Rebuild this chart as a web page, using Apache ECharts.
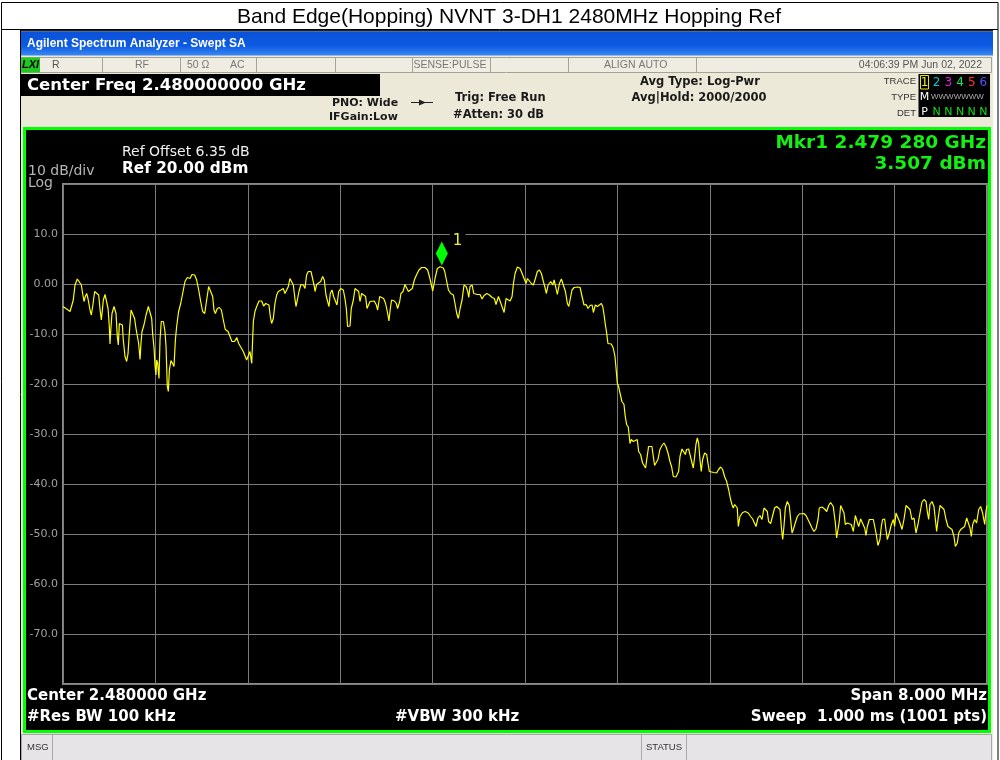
<!DOCTYPE html>
<html><head><meta charset="utf-8">
<script src="https://cdn.jsdelivr.net/npm/echarts@6/dist/echarts.min.js"></script>
<style>html,body{margin:0;padding:0;background:#fff}#c{width:1000px;height:760px}</style>
</head><body><div id="c"></div>
<script>
// ---- data (frequency in MHz, level in dBm) ----
const freqMHz = [
2476.000,2476.017,2476.038,2476.061,2476.078,2476.089,2476.104,2476.124,2476.141,2476.159,2476.170,2476.182,2476.193,2476.205,2476.216,2476.234,2476.245,2476.257,2476.274,2476.291,
2476.309,2476.320,2476.332,2476.341,2476.349,2476.364,2476.378,2476.390,2476.401,2476.407,2476.413,2476.424,2476.442,2476.459,2476.470,2476.479,2476.488,2476.499,2476.514,2476.522,
2476.537,2476.551,2476.563,2476.574,2476.589,2476.603,2476.620,2476.632,2476.646,2476.655,2476.667,2476.675,2476.684,2476.701,2476.719,2476.739,2476.753,2476.768,2476.776,2476.788,
2476.797,2476.805,2476.811,2476.820,2476.831,2476.840,2476.851,2476.869,2476.883,2476.892,2476.903,2476.912,2476.921,2476.935,2476.949,2476.961,2476.973,2476.984,2477.001,2477.019,
2477.036,2477.056,2477.076,2477.100,2477.117,2477.140,2477.157,2477.175,2477.192,2477.209,2477.227,2477.244,2477.261,2477.278,2477.296,2477.307,2477.319,2477.336,2477.354,2477.371,
2477.388,2477.405,2477.429,2477.446,2477.463,2477.486,2477.504,2477.521,2477.532,2477.561,2477.590,2477.619,2477.634,
2477.648,2477.662,2477.677,2477.697,2477.720,2477.737,2477.755,2477.772,2477.783,2477.795,2477.806,2477.821,2477.835,2477.850,2477.864,2477.887,2477.907,2477.922,2477.939,2477.951,
2477.965,2477.980,2477.994,2478.008,2478.017,2478.029,2478.043,2478.060,2478.081,2478.095,2478.109,2478.124,2478.147,2478.161,2478.176,2478.182,2478.196,2478.211,2478.231,2478.248,
2478.262,2478.277,2478.291,2478.303,2478.314,2478.329,2478.343,2478.355,2478.372,2478.387,2478.404,2478.427,2478.441,2478.453,2478.464,2478.485,2478.496,2478.514,2478.528,2478.545,
2478.560,2478.571,2478.586,2478.603,2478.620,2478.632,2478.643,2478.658,2478.672,2478.695,2478.713,2478.724,2478.742,2478.759,2478.776,2478.793,2478.811,2478.822,2478.834,2478.845,
2478.869,2478.886,2478.897,2478.915,2478.926,2478.944,2478.961,2478.975,2478.990,2479.004,2479.024,2479.042,2479.062,2479.082,2479.105,2479.134,2479.157,2479.177,
2479.201,2479.213,2479.221,2479.241,2479.265,2479.280,2479.293,2479.305,2479.317,2479.337,2479.357,2479.380,2479.394,2479.409,2479.423,2479.438,2479.455,2479.472,2479.490,2479.504,
2479.513,2479.524,2479.542,2479.556,2479.570,2479.588,2479.611,2479.628,2479.646,2479.669,2479.692,2479.715,2479.735,2479.749,2479.770,2479.787,2479.801,2479.819,2479.836,2479.853,
2479.871,2479.888,2479.900,2479.914,2479.934,2479.957,2479.975,2479.992,2480.009,2480.021,2480.038,2480.055,2480.073,2480.090,2480.107,2480.125,2480.142,2480.159,2480.171,2480.185,
2480.200,2480.223,2480.240,2480.252,2480.269,2480.280,2480.298,2480.315,2480.332,2480.350,2480.367,2480.379,2480.390,2480.407,2480.425,2480.442,2480.459,2480.477,2480.494,2480.511,
2480.529,2480.546,2480.563,2480.581,2480.592,2480.609,2480.627,2480.644,2480.661,2480.673,2480.684,2480.696,
2480.707,2480.718,2480.747,2480.764,2480.779,2480.788,2480.799,2480.811,2480.828,2480.839,2480.857,2480.868,2480.880,2480.894,2480.903,2480.909,2480.920,2480.938,2480.955,2480.972,
2480.984,2481.001,2481.018,2481.033,2481.044,2481.056,2481.070,2481.082,2481.099,2481.111,2481.122,2481.134,2481.151,2481.168,2481.186,2481.203,2481.220,2481.238,2481.255,2481.269,
2481.284,2481.307,2481.321,2481.330,2481.342,2481.359,2481.376,2481.388,2481.399,2481.417,2481.434,2481.446,2481.457,2481.469,2481.480,2481.492,2481.503,2481.515,2481.526,2481.538,
2481.555,2481.573,2481.584,2481.596,2481.613,2481.636,2481.659,2481.676,2481.694,2481.711,2481.728,2481.746,2481.763,2481.780,2481.792,2481.803,2481.815,2481.826,2481.838,
2481.847,2481.861,2481.884,2481.907,2481.933,2481.954,2481.971,2481.988,2482.000,2482.017,2482.034,2482.052,2482.069,2482.086,2482.098,2482.109,2482.127,2482.144,2482.161,2482.179,
2482.196,2482.208,2482.219,2482.231,2482.242,2482.254,2482.271,2482.288,2482.300,2482.312,2482.323,2482.340,2482.358,2482.375,2482.392,2482.415,2482.433,2482.450,2482.467,2482.485,
2482.502,2482.519,2482.537,2482.548,2482.571,2482.594,2482.612,2482.629,2482.646,2482.658,2482.669,2482.687,2482.698,2482.710,2482.721,2482.733,2482.750,2482.762,2482.773,2482.791,
2482.808,2482.825,2482.843,2482.860,2482.877,2482.889,2482.906,2482.923,2482.941,2482.952,2482.964,2482.981,2482.998,2483.016,2483.027,2483.039,2483.056,2483.073,2483.085,2483.096,
2483.114,2483.125,2483.137,2483.154,2483.172,2483.189,2483.200,2483.212,2483.229,2483.247,2483.264,2483.281,2483.299,2483.316,2483.333,2483.350,2483.368,2483.385,2483.402,2483.420,
2483.437,2483.454,2483.472,2483.483,2483.495,2483.506,2483.524,2483.541,2483.553,2483.564,2483.576,2483.593,2483.610,2483.628,2483.645,2483.662,2483.679,2483.697,2483.714,2483.726,
2483.743,2483.755,2483.772,2483.789,2483.806,2483.824,2483.841,2483.853,2483.864,2483.876,2483.893,2483.910,2483.928,2483.945,2483.962,2483.980,2483.991,2484.000
];
const levelDbm = [
-4.5,-4.2,-5.1,-5.5,-5.2,-3.2,-0.2,1.0,0.9,-0.2,-1.9,-3.5,-2.5,-1.9,-2.9,-5.2,-6.2,-4.5,-1.5,-1.2,
-2.2,-4.9,-7.2,-5.2,-3.2,-2.1,-2.4,-4.9,-8.5,-12.0,-9.5,-5.9,-4.5,-5.9,-10.5,-12.2,-7.9,-7.5,-8.2,-11.2,
-14.5,-15.5,-13.9,-9.9,-5.2,-5.2,-6.9,-8.9,-8.9,-11.9,-15.1,-11.9,-9.5,-8.2,-6.2,-4.5,-4.9,-6.9,-9.9,-12.7,
-16.5,-18.2,-15.2,-15.9,-18.9,-11.2,-7.5,-7.5,-9.5,-12.5,-20.5,-21.5,-17.2,-15.3,-15.9,-16.5,-11.2,-8.5,-5.5,-3.9,
-1.9,0.5,1.3,1.1,1.9,1.8,0.8,-1.2,-3.5,-5.5,-5.9,-3.2,-0.5,-0.2,-2.5,-5.2,-5.9,-4.9,-4.7,-5.2,
-7.2,-9.1,-9.5,-10.5,-11.5,-11.5,-10.7,-11.9,-11.5,-13.5,-15.2,-13.5,-15.9,
-7.5,-5.5,-4.5,-3.4,-3.4,-4.4,-3.9,-3.7,-4.2,-6.5,-7.9,-6.9,-3.9,-2.2,-1.5,-1.2,-0.9,-1.9,-1.9,-0.5,
1.1,1.0,-0.2,-2.9,-4.5,-3.2,-1.5,-0.1,-0.2,-0.9,1.8,2.5,2.5,1.1,-0.5,-1.5,-0.1,0.3,0.5,1.5,
0.8,-2.2,-3.5,-4.5,-1.9,-1.2,-2.5,-3.2,-4.2,-1.5,-0.9,-1.2,-2.9,-4.9,-8.5,-8.4,-4.9,-3.2,-0.9,-0.5,
-1.5,-3.5,-1.9,-1.5,-2.5,-4.9,-5.2,-3.5,-3.2,-3.4,-4.2,-5.2,-2.5,-2.3,-2.9,-3.9,-5.9,-7.4,-4.9,-3.2,
-3.4,-3.9,-4.9,-3.5,-1.9,-1.5,-0.1,-0.2,-1.5,-1.4,-0.9,0.8,1.9,2.8,3.3,3.3,2.8,1.1,
-1.4,0.0,1.1,3.1,3.45,3.507,3.2,2.5,1.1,-1.2,-1.9,-2.2,-3.9,-5.9,-6.9,-4.9,-3.2,-0.2,-0.5,-1.5,
-2.7,-0.5,-0.2,-1.9,-2.3,-2.1,-2.1,-3.0,-2.3,-1.9,-2.2,-2.7,-2.9,-4.1,-2.5,-2.9,-4.5,-5.7,-2.9,-2.7,
-3.4,-2.5,0.1,2.1,3.4,3.1,2.1,1.8,0.1,1.1,1.3,0.1,-0.2,1.1,2.5,2.8,2.1,0.5,-0.5,-1.9,
-0.2,0.5,-0.2,0.8,-0.9,-2.1,0.1,1.0,0.8,-1.5,-3.9,-4.5,-3.2,-1.2,-0.7,-1.0,-0.6,-0.7,-2.5,-4.2,
-4.1,-4.9,-4.3,-4.2,-5.7,-4.2,-4.5,-4.1,-3.9,-4.5,-6.1,-8.2,
-9.8,-11.9,-12.0,-12.8,-14.5,-16.8,-19.8,-20.6,-20.8,-23.5,-24.1,-26.5,-28.1,-28.6,-30.5,-31.9,-31.1,-31.5,-31.1,-31.1,
-33.5,-34.1,-35.8,-35.9,-36.8,-34.8,-32.5,-32.3,-32.5,-34.5,-36.3,-36.5,-35.1,-33.1,-32.3,-31.8,-32.5,-33.8,-35.5,-36.5,
-38.5,-38.6,-38.8,-37.5,-34.5,-33.0,-33.1,-34.1,-33.1,-33.0,-33.3,-35.8,-36.8,-34.5,-32.1,-30.8,-31.8,-35.1,-37.5,-35.1,
-33.8,-34.1,-35.8,-37.5,-37.7,-37.7,-37.8,-37.1,-36.6,-37.1,-38.5,-39.5,-41.1,-43.1,-44.1,-44.8,-44.1,-43.8,-44.8,
-48.5,-46.5,-45.7,-45.5,-45.8,-46.5,-47.0,-47.0,-48.5,-46.8,-46.3,-47.1,-44.8,-44.7,-45.5,-47.5,-47.9,-47.6,-44.8,-44.5,
-44.3,-45.1,-48.5,-51.1,-48.5,-44.8,-43.5,-44.3,-47.1,-49.8,-49.1,-47.8,-46.5,-46.0,-45.8,-45.9,-46.3,-47.1,-47.9,-48.8,
-49.5,-49.0,-47.1,-44.8,-44.6,-45.0,-45.5,-44.3,-43.7,-43.5,-44.5,-47.8,-50.8,-51.1,-47.5,-44.3,-44.3,-45.8,-48.1,-47.8,
-47.5,-48.1,-49.5,-46.3,-46.5,-48.5,-47.0,-47.1,-48.8,-50.3,-48.5,-47.1,-47.0,-47.1,-47.0,-49.8,-52.3,-51.1,-48.5,-47.1,
-47.0,-49.1,-51.1,-49.8,-48.1,-47.1,-48.5,-45.8,-46.1,-47.8,-49.1,-47.1,-44.3,-44.1,-45.1,-47.1,-46.8,-49.8,-48.1,-45.8,
-43.6,-43.1,-43.5,-45.5,-47.1,-44.1,-43.5,-44.5,-47.1,-49.5,-47.1,-44.3,-43.9,-45.1,-47.1,-48.5,-48.5,-49.1,-50.5,-52.5,
-51.8,-49.8,-49.1,-49.0,-48.5,-46.8,-46.5,-48.8,-50.5,-48.1,-47.1,-47.8,-45.1,-44.5,-45.8,-48.1,-45.5,-44.3
];
const yTicks = [20, 10, 0, -10, -20, -30, -40, -50, -60, -70, -80];
const yTickLabels = ['', '10.0', '0.00', '-10.0', '-20.0', '-30.0', '-40.0', '-50.0', '-60.0', '-70.0', ''];
const xRange = [2476, 2484];
const marker = { freq: 2479.280, level: 3.507, label: '1' };

// ---- chrome helpers ----
const DJ = '"DejaVu Sans"';
const LS = '"Liberation Sans"';
function rect(x, y, w, h, fill, stroke, lw, z) {
  return { type: 'rect', z: z == null ? -5 : z, silent: true, shape: { x, y, width: w, height: h },
    style: { fill: fill || 'none', stroke: stroke || 'none', lineWidth: lw || 0 } };
}
function line(x1, y1, x2, y2, stroke, lw, z) {
  return { type: 'line', z: z == null ? -4 : z, silent: true, shape: { x1, y1, x2, y2 },
    style: { stroke, lineWidth: lw || 1 } };
}
function txt(x, y, text, font, fill, align) {
  return { type: 'text', z: 50, silent: true, x, y,
    style: { text, font, fill, textAlign: align || 'left', textVerticalAlign: 'middle', verticalAlign: 'middle' } };
}

const g = [];
// page table
g.push(rect(1.5, 2.5, 996.5, 770, '#fff', '#000', 1, -9));
g.push(txt(509, 17, 'Band Edge(Hopping) NVNT 3-DH1 2480MHz Hopping Ref', '21px ' + LS, '#000', 'center'));
g.push(line(1, 29.5, 998, 29.5, '#000', 1, -8));
g.push(line(20.5, 29, 20.5, 760, '#000', 1, -8));
// screenshot background
g.push(rect(21, 30, 972, 730, '#ece9d8', null, 0, -8));
g.push(rect(21, 30, 972, 1.5, '#222', null, 0, -7));
// title bar
g.push({ type: 'rect', z: -7, silent: true, shape: { x: 21, y: 31.5, width: 972, height: 24 },
  style: { fill: new echarts.graphic.LinearGradient(0, 0, 0, 1, [
    { offset: 0, color: '#0a52d8' }, { offset: 0.6, color: '#0c5ae2' }, { offset: 1, color: '#3a88f2' }]) } });
g.push(txt(27, 44, 'Agilent Spectrum Analyzer - Swept SA', 'bold 12px ' + LS, '#fff'));
// status row
g.push(rect(21.5, 57.5, 970, 15, '#efece2', '#a5a398', 1, -7));
[102.5, 180.5, 256.5, 335.5, 412.5, 490.5, 568.5, 696.5].forEach(x => g.push(line(x, 57.5, x, 72.5, '#a5a398', 1, -6)));
g.push(rect(21, 57.5, 19, 15, '#22c822', null, 0, -6));
g.push(txt(22, 65, 'LXI', 'italic bold 11px ' + LS, '#000'));
g.push(txt(52, 65, 'R', '10.5px ' + LS, '#555'));
g.push(txt(135, 65, 'RF', '10.5px ' + LS, '#777'));
g.push(txt(187, 65, '50 Ω', '10.5px ' + LS, '#777'));
g.push(txt(230, 65, 'AC', '10.5px ' + LS, '#777'));
g.push(txt(413.5, 65, 'SENSE:PULSE', '10.5px ' + LS, '#777'));
g.push(txt(604, 65, 'ALIGN AUTO', '10.5px ' + LS, '#777'));
g.push(txt(982, 65, '04:06:39 PM Jun 02, 2022', '10.5px ' + LS, '#555', 'right'));
// center freq box + settings
g.push(rect(21, 74, 359, 22, '#000', null, 0, -6));
g.push(txt(27, 86, 'Center Freq 2.480000000 GHz', 'bold 16.5px ' + DJ, '#fff'));
g.push(txt(332, 103, 'PNO: Wide', 'bold 11px ' + DJ, '#1a1a1a'));
g.push(txt(329, 117, 'IFGain:Low', 'bold 11px ' + DJ, '#1a1a1a'));
g.push(line(411, 102.5, 433, 102.5, '#222', 1, -5));
g.push({ type: 'polygon', z: -5, silent: true, shape: { points: [[419, 99.5], [426, 102.5], [419, 105.5]] }, style: { fill: '#222' } });
g.push(txt(455, 98, 'Trig: Free Run', 'bold 11.5px ' + DJ, '#1a1a1a'));
g.push(txt(453, 115, '#Atten: 30 dB', 'bold 11.5px ' + DJ, '#1a1a1a'));
g.push(txt(700, 82, 'Avg Type: Log-Pwr', 'bold 11.5px ' + DJ, '#1a1a1a', 'center'));
g.push(txt(699, 98, 'Avg|Hold: 2000/2000', 'bold 11.5px ' + DJ, '#1a1a1a', 'center'));
// trace box
g.push(txt(916, 81, 'TRACE', '9.5px ' + LS, '#333', 'right'));
g.push(txt(916, 97, 'TYPE', '9.5px ' + LS, '#333', 'right'));
g.push(txt(916, 113, 'DET', '9.5px ' + LS, '#333', 'right'));
g.push(rect(918.5, 74, 71.5, 43, '#000', null, 0, -6));
g.push(rect(920.5, 75.5, 8, 13.5, 'none', '#e8e800', 1, -5));
const trCols = ['#f0f000', '#00c8d0', '#e020e0', '#20e060', '#ff3030', '#5050ff'];
[924.5, 936.5, 948.3, 960, 971.7, 983.3].forEach((x, i) => g.push(txt(x, 82.5, String(i + 1), '12px ' + DJ, trCols[i], 'center')));
g.push(txt(924.5, 97, 'M', '11px ' + DJ, '#fff', 'center'));
g.push(txt(931, 97, 'WWWWWWW', '8px ' + LS, '#b0b0b0'));
g.push(txt(924.5, 112.5, 'P', '11px ' + DJ, '#fff', 'center'));
[936.5, 948.3, 960, 971.7, 983.3].forEach(x => g.push(txt(x, 112.5, 'N', '11px ' + DJ, '#10e010', 'center')));
// display area
g.push(rect(24.5, 128.5, 965, 603, '#000', '#00ff00', 3, -6));
g.push(txt(122, 152.5, 'Ref Offset 6.35 dB', '14px ' + DJ, '#f2f2f2'));
g.push(txt(122, 169.5, 'Ref 20.00 dBm', 'bold 15.3px ' + DJ, '#fff'));
g.push(txt(28, 171.5, '10 dB/div', '14px ' + DJ, '#b4b4b4'));
g.push(txt(28, 183.5, 'Log', '14px ' + DJ, '#b4b4b4'));
g.push(txt(986, 143, 'Mkr1 2.479 280 GHz', 'bold 18.5px ' + DJ, '#14f014', 'right'));
g.push(txt(986, 164, '3.507 dBm', 'bold 18.5px ' + DJ, '#14f014', 'right'));
g.push(txt(27, 696.5, 'Center 2.480000 GHz', 'bold 15px ' + DJ, '#fff'));
g.push(txt(27, 717.5, '#Res BW 100 kHz', 'bold 15px ' + DJ, '#fff'));
g.push(txt(395, 717.5, '#VBW 300 kHz', 'bold 15px ' + DJ, '#fff'));
g.push(txt(987, 696.5, 'Span 8.000 MHz', 'bold 15px ' + DJ, '#fff', 'right'));
g.push(txt(987, 717.5, 'Sweep  1.000 ms (1001 pts)', 'bold 15px ' + DJ, '#fff', 'right'));
// message bar
g.push(rect(21.5, 734.5, 970, 26, '#e6e4e6', '#a8a8a8', 1, -6));
g.push(line(52.5, 735, 52.5, 760, '#a8a8a8', 1, -5));
g.push(line(641.5, 735, 641.5, 760, '#a8a8a8', 1, -5));
g.push(line(686.5, 735, 686.5, 760, '#a8a8a8', 1, -5));
g.push(txt(27, 747, 'MSG', '9.5px ' + LS, '#333'));
g.push(txt(664, 747, 'STATUS', '9.5px ' + LS, '#333', 'center'));

const chart = echarts.init(document.getElementById('c'), null, { renderer: 'canvas' });
chart.setOption({
  animation: false,
  backgroundColor: '#fff',
  graphic: { elements: g },
  grid: { left: 63, top: 184, width: 924, height: 500, show: true, backgroundColor: 'transparent', borderColor: '#8a8a8a', borderWidth: 2 },
  xAxis: { type: 'value', min: xRange[0], max: xRange[1], interval: 0.8,
    axisLine: { show: false }, axisTick: { show: false }, axisLabel: { show: false },
    splitLine: { show: true, lineStyle: { color: '#7c7c7c', width: 1 } } },
  yAxis: { type: 'value', min: -80, max: 20, interval: 10,
    axisLine: { show: false }, axisTick: { show: false },
    axisLabel: { margin: 5, color: '#a0a0a0', fontFamily: 'DejaVu Sans', fontSize: 11,
      formatter: v => { const i = yTicks.indexOf(Math.round(v)); return i >= 0 ? yTickLabels[i] : ''; } },
    splitLine: { show: true, lineStyle: { color: '#7c7c7c', width: 1 } } },
  series: [{
    type: 'line', z: 5, showSymbol: false, symbol: 'none',
    lineStyle: { color: '#ffff00', width: 1.2 },
    data: freqMHz.map((f, i) => [f, levelDbm[i]]),
    markPoint: {
      z: 6, symbol: 'diamond', symbolSize: [12, 24], symbolOffset: [0, -13],
      itemStyle: { color: '#00ff00' },
      label: { show: true, formatter: marker.label, position: 'right', distance: 2, offset: [0, -12],
        color: '#f0f030', fontFamily: 'DejaVu Sans', fontSize: 15, backgroundColor: '#000', padding: [0, 3] },
      data: [{ coord: [marker.freq, marker.level] }]
    }
  }]
});
</script>
</body></html>
